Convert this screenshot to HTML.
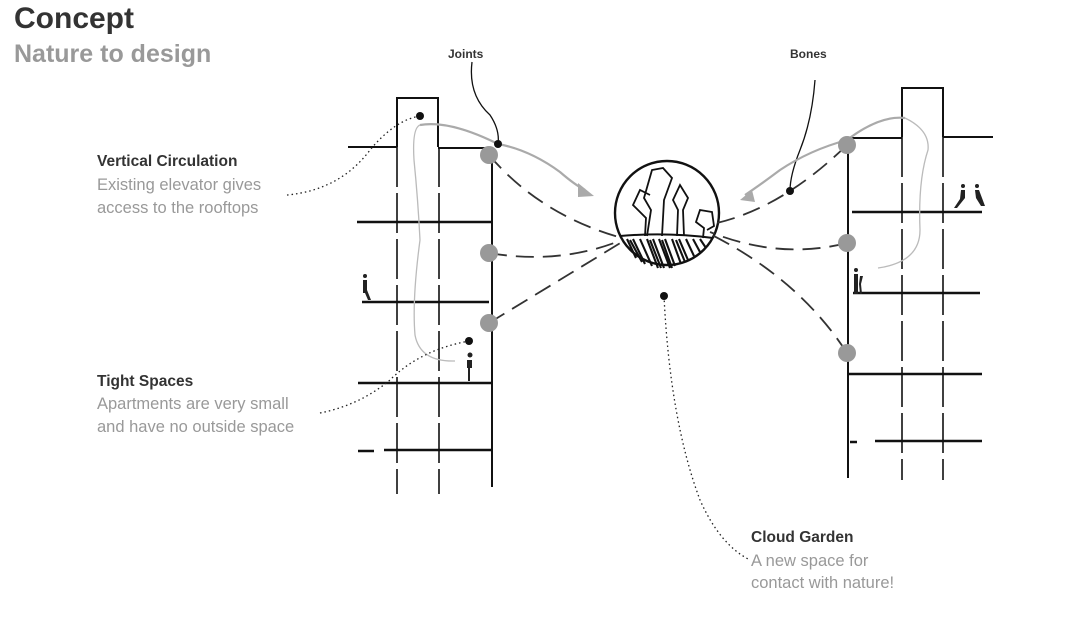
<!DOCTYPE html>
<html><head><meta charset="utf-8"><style>
html,body{margin:0;padding:0;background:#fff;width:1072px;height:618px;overflow:hidden;font-family:"Liberation Sans",sans-serif}
</style></head><body>
<svg width="1072" height="618" viewBox="0 0 1072 618" xmlns="http://www.w3.org/2000/svg" style="position:absolute;left:0;top:0">
<g font-family="Liberation Sans, sans-serif">
<text x="14" y="28" font-size="30" font-weight="bold" fill="#333">Concept</text>
<text x="14" y="62" font-size="25" font-weight="bold" fill="#999">Nature to design</text>
<text x="448" y="58" font-size="12" font-weight="bold" fill="#333">Joints</text>
<text x="790" y="58" font-size="12" font-weight="bold" fill="#333">Bones</text>
<text x="97" y="166" font-size="15.5" font-weight="bold" fill="#333">Vertical Circulation</text>
<text x="97" y="190" font-size="16.5" fill="#999">Existing elevator gives</text>
<text x="97" y="213" font-size="16.5" fill="#999">access to the rooftops</text>
<text x="97" y="386" font-size="15.5" font-weight="bold" fill="#333">Tight Spaces</text>
<text x="97" y="409" font-size="16.5" fill="#999">Apartments are very small</text>
<text x="97" y="432" font-size="16.5" fill="#999">and have no outside space</text>
<text x="751" y="542" font-size="15.5" font-weight="bold" fill="#333">Cloud Garden</text>
<text x="751" y="566" font-size="16.5" fill="#999">A new space for</text>
<text x="751" y="588" font-size="16.5" fill="#999">contact with nature!</text>
</g>
<g stroke="#111" fill="none" stroke-width="2">
<path d="M397 147 V98 H438 V147"/>
<path d="M397 147 V494 M439 147 V494" stroke-dasharray="40 6" stroke-width="1.6"/>
<path d="M348 147 H397 M438 148 H492 V487"/>
<path d="M357 222 H492 M362 302 H489 M358 383 H492 M358 451 H374 M384 450 H492" stroke-width="2.6"/>
<path d="M902 137 V88 H943 V137"/>
<path d="M902 137 V480 M943 137 V480" stroke-dasharray="40 6" stroke-width="1.6"/>
<path d="M848 138 H902 M943 137 H993 M848 140 V478"/>
<path d="M852 212 H982 M853 293 H980 M848 374 H982 M850 442 H857 M875 441 H982" stroke-width="2.6"/>
<circle cx="667" cy="213" r="52" stroke-width="2.4"/>
<path d="M620 236 Q667 232 713 238" stroke-width="2"/>
<path d="M627 239 L636 258 M633 239 L645 264 M640 239 L652 266 M647 239 L658 268 M653 239 L664 268 M659 239 L670 268 M665 239 L675 266 M672 239 L681 264 M679 239 L688 260 M686 239 L694 256 M693 239 L700 252 M700 239 L706 248 M630 240 L642 262 M650 240 L661 268 M662 240 L672 268 M676 240 L685 262" stroke-width="2.1"/>
<path d="M647 236 L651 210 L644 198 L652 170 L663 168 L672 178 L664 200 L662 236 M645 236 L646 218 L633 205 L640 190 L650 195 M677 236 L678 210 L673 200 L680 185 L688 198 L683 210 L684 236 M703 238 L704 228 L696 222 L700 210 L712 212 L714 226 L707 230" stroke-width="1.8"/>
<g stroke="#333" stroke-width="1.8" stroke-dasharray="18 9">
<path d="M489 155 Q540 215 622 238"/>
<path d="M489 253 Q560 265 622 240"/>
<path d="M489 323 L622 242"/>
<path d="M847 145 Q780 210 712 224"/>
<path d="M847 243 Q780 260 710 232"/>
<path d="M847 353 Q800 280 712 235"/>
</g>
<path d="M472 62 Q468 95 490 115 Q500 130 498 144" stroke-width="1.3"/>
<path d="M815 80 Q812 120 800 150 Q790 175 790 191" stroke-width="1.3"/>
</g>
<g stroke="#aaa" fill="none" stroke-width="2.2">
<path d="M498 144 Q530 150 560 172 Q575 185 585 190"/>
<path d="M420 125 Q450 120 498 144"/>
<path d="M847 140 Q810 150 780 170 Q760 185 745 195"/>
<path d="M847 140 Q880 115 905 118"/>
</g>
<path d="M578 183 L594 196 L578 197 Z" fill="#aaa"/>
<path d="M752 190 L740 200 L755 202 Z" fill="#aaa"/>
<g stroke="#bbb" fill="none" stroke-width="1.3">
<path d="M420 125 Q412 128 414 160 Q418 200 420 240 Q412 300 415 335 Q420 362 455 361"/>
<path d="M905 118 Q930 130 928 150 Q918 180 920 230 Q920 262 878 268"/>
</g>
<g fill="#999">
<circle cx="489" cy="155" r="9"/><circle cx="489" cy="253" r="9"/><circle cx="489" cy="323" r="9"/>
<circle cx="847" cy="145" r="9"/><circle cx="847" cy="243" r="9"/><circle cx="847" cy="353" r="9"/>
</g>
<g stroke="#222" fill="none" stroke-width="1.3" stroke-dasharray="1.5 3">
<path d="M287 195 Q340 190 370 150 Q395 120 420 116"/>
<path d="M320 413 Q360 405 390 380 Q420 350 469 341"/>
<path d="M664 296 Q670 420 700 500 Q720 545 750 560"/>
</g>
<g fill="#111">
<circle cx="420" cy="116" r="4"/><circle cx="469" cy="341" r="4"/><circle cx="664" cy="296" r="4"/>
<circle cx="498" cy="144" r="4"/><circle cx="790" cy="191" r="4"/>
</g>
<g fill="#222">
<circle cx="365" cy="276" r="2"/><path d="M363 280 h4 v10 l4 10 h-3 l-3 -7 h-2 z"/>
<circle cx="470" cy="355" r="2.5"/><path d="M467 360 h5 v8 h-2 v13 h-2 v-13 h-1 z"/>
<circle cx="856" cy="270" r="2"/><path d="M854 274 h4 v20 h-4 z M860 276 l3 0 -2 8 1 10 h-2 l-1 -10 z"/>
<circle cx="963" cy="186" r="2"/><path d="M961 190 h4 v8 l-8 10 h-3 l6 -9 z"/>
<circle cx="977" cy="186" r="2"/><path d="M975 190 h4 l6 16 h-4 l-5 -8 z"/>
</g>
</svg>
</body></html>
